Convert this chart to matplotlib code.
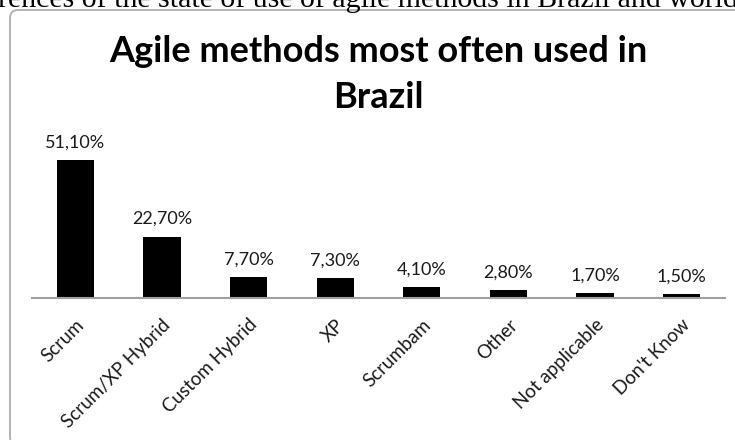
import matplotlib.pyplot as plt
from matplotlib.patches import FancyBboxPatch

CATEGORIES = ['Scrum', 'Scrum/XP Hybrid', 'Custom Hybrid', 'XP', 'Scrumbam',
              'Other', 'Not applicable', "Don't Know"]
SHARES = [51.1, 22.7, 7.7, 7.3, 4.1, 2.8, 1.7, 1.5]
VALUE_LABELS = ['51,10%', '22,70%', '7,70%', '7,30%', '4,10%', '2,80%', '1,70%', '1,50%']
TITLE_LINES = ['Agile methods most often used in', 'Brazil']
CAPTION = 'rences of the state of use of agile methods in Brazil and world'

W, H = 735, 440
fig = plt.figure(figsize=(W / 100, H / 100), dpi=100)

# cut-off caption line from the document above the chart
fig.text(-2 / W, 1 - 7 / H, CAPTION, family='Liberation Serif', fontsize=21.5,
         ha='left', va='baseline', color='black')

# rounded chart frame
frame = FancyBboxPatch((0.10, -0.05), 7.36, 4.35,
                       boxstyle='round,pad=0,rounding_size=0.08',
                       transform=fig.dpi_scale_trans, facecolor='white',
                       edgecolor='#b4b4b4', linewidth=1.4, zorder=0)
fig.add_artist(frame)

# title, one text per line so each baseline sits where the reference has it
for line, base in zip(TITLE_LINES, [62, 108]):
    fig.text(378 / W, 1 - base / H, line, family='Lato', fontweight='bold',
             fontsize=26, ha='center', va='baseline')

ax = fig.add_axes([32 / W, 1 - 298 / H, 693 / W, 162 / H])
ax.patch.set_alpha(0)
x = range(len(CATEGORIES))
bars = ax.bar(x, SHARES, width=0.43, color='black')
ax.set_xlim(-0.5, len(CATEGORIES) - 0.5)
ax.set_ylim(0, 60)

for b, lab in zip(bars, VALUE_LABELS):
    ax.annotate(lab, (b.get_x() + b.get_width() / 2, b.get_height()),
                xytext=(0, 7), textcoords='offset points', ha='center',
                va='bottom', family='Lato', fontsize=13, color='#1a1a1a')

for s in ['top', 'right', 'left']:
    ax.spines[s].set_visible(False)
ax.spines['bottom'].set_color('#a0a0a0')
ax.spines['bottom'].set_linewidth(1.5)
ax.set_yticks([])
ax.set_xticks(list(x))
ax.set_xticklabels(CATEGORIES, rotation=45, ha='right', rotation_mode='anchor',
                   family='Lato', fontsize=13.5, color='#1a1a1a')
ax.tick_params(axis='x', length=0, pad=13)

fig.savefig('out.png', dpi=100)
